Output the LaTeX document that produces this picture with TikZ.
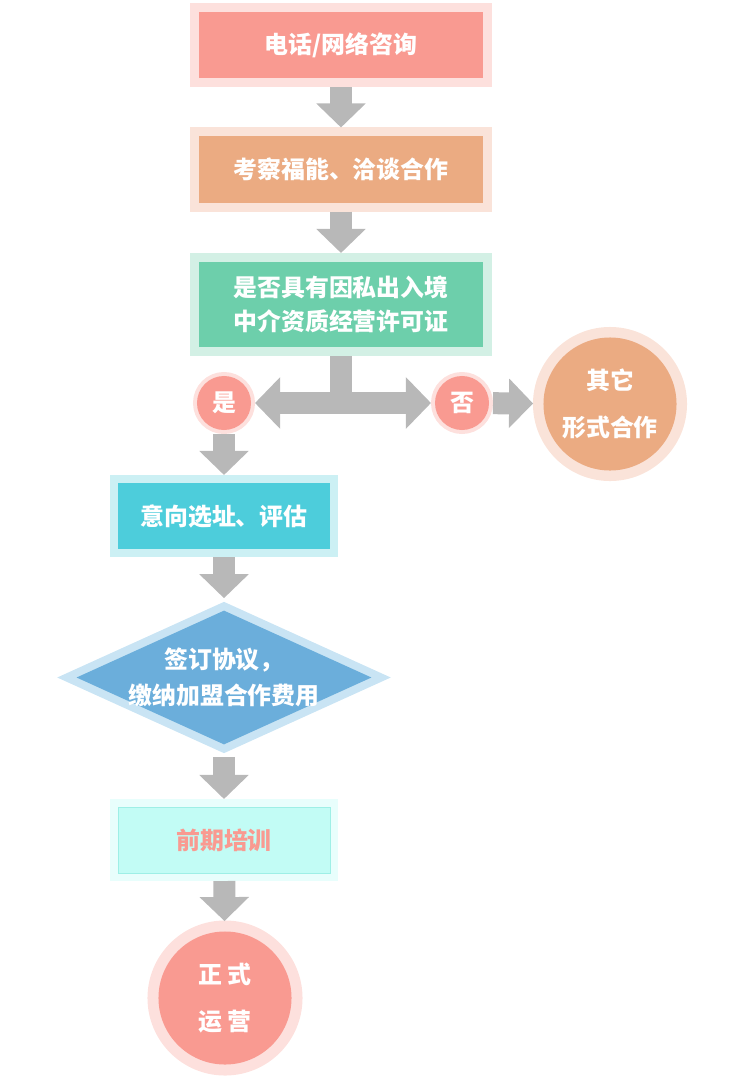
\documentclass[tikz,border=0pt]{standalone}
\usepackage{fontspec}
\setmainfont{Noto Sans CJK SC}
\usetikzlibrary{shapes,arrows.meta}
\definecolor{fc_red}{RGB}{249, 154, 145}
\definecolor{fc_red_lt}{RGB}{253, 224, 221}
\definecolor{fc_sand}{RGB}{235, 171, 130}
\definecolor{fc_sand_lt}{RGB}{250, 227, 217}
\definecolor{fc_green}{RGB}{109, 207, 171}
\definecolor{fc_green_lt}{RGB}{211, 240, 229}
\definecolor{fc_cyan}{RGB}{77, 205, 219}
\definecolor{fc_cyan_lt}{RGB}{204, 240, 244}
\definecolor{fc_blue}{RGB}{107, 174, 219}
\definecolor{fc_blue_lt}{RGB}{201, 228, 244}
\definecolor{fc_mint}{RGB}{194, 252, 245}
\definecolor{fc_mint_bd}{RGB}{158, 239, 230}
\definecolor{fc_mint_lt}{RGB}{232, 254, 252}
\definecolor{fc_grey}{RGB}{184, 184, 184}
\tikzstyle{box}=[rectangle,inner sep=0pt,text=white,align=center,
  font=\bfseries\fontsize{17}{24}\selectfont]
\tikzstyle{wbox}=[box,outer sep=0.225cm,minimum width=7.1cm,minimum height=1.65cm]
\tikzstyle{nbox}=[box,outer sep=0.2cm,minimum width=5.3cm,minimum height=1.65cm]
\tikzstyle{rbox}=[wbox,fill=fc_red,preaction={draw=fc_red_lt,line width=0.45cm}]
\tikzstyle{sbox}=[wbox,fill=fc_sand,preaction={draw=fc_sand_lt,line width=0.45cm}]
\tikzstyle{gbox}=[wbox,fill=fc_green,minimum height=2.125cm,
  preaction={draw=fc_green_lt,line width=0.45cm}]
\tikzstyle{cbox}=[nbox,fill=fc_cyan,preaction={draw=fc_cyan_lt,line width=0.4cm}]
\tikzstyle{mbox}=[nbox,fill=fc_mint,draw=fc_mint_bd,line width=0.6pt,text=fc_red,
  preaction={draw=fc_mint_lt,line width=0.4cm}]
\tikzstyle{bdia}=[diamond,aspect=2.14,fill=fc_blue,inner sep=-12pt,outer sep=0.22cm,
  minimum width=7.55cm,minimum height=3.525cm,text=white,align=center,
  font=\bfseries\fontsize{17}{26}\selectfont,
  preaction={draw=fc_blue_lt,line width=0.4cm}]
\tikzstyle{rc}=[circle,fill=fc_red,inner sep=0pt,minimum size=1.35cm,outer sep=0.1cm,
  text=white,font=\bfseries\fontsize{17}{24}\selectfont,
  preaction={draw=fc_red_lt,line width=0.2cm}]
\tikzstyle{bigc}=[circle,inner sep=0pt,minimum size=3.325cm,outer sep=0.26cm,
  text=white,align=center,font=\bfseries\fontsize{17}{33}\selectfont]
\tikzstyle{sc}=[bigc,fill=fc_sand,preaction={draw=fc_sand_lt,line width=0.525cm}]
\tikzstyle{bc}=[bigc,fill=fc_red,preaction={draw=fc_red_lt,line width=0.55cm}]
\tikzstyle{stem}=[draw=fc_grey,line width=0.55cm]
\tikzstyle{pipe}=[stem,-{Triangle[width=1.2cm,length=0.6cm]}]
\tikzstyle{pipes}=[stem,{Triangle[width=1.25cm,length=0.625cm]}-{Triangle[width=1.25cm,length=0.625cm]}]

\begin{document}
\begin{tikzpicture}[x=0.025cm,y=-0.025cm]
    \useasboundingbox (0,0) rectangle (742,1078);
    \node [style=rbox] (consult) at (341,45) {电话/网络咨询};
    \node [style=sbox] (visit) at (341,169.5) {考察福能、洽谈合作};
    \node [style=gbox] (licence) at (341,304.5) {是否具有因私出入境\\中介资质经营许可证};
    \node [style=rc] (yes) at (224,403) {是};
    \node [style=rc] (no) at (462,403) {否};
    \node [style=sc] (other) at (610,404) {其它\\形式合作};
    \node [style=cbox] (site) at (224,516) {意向选址、评估};
    \node [style=bdia] (sign) at (224,677.5) {签订协议，\\缴纳加盟合作费用};
    \node [style=mbox] (train) at (224,840) {前期培训};
    \node [style=bc] (open) at (225,998) {正 式\\运 营};
    \draw [style=pipe] (consult) to (visit);
    \draw [style=pipe] (visit) to (licence);
    \draw [style=stem] (licence) to (licence |- yes);
    \draw [style=pipes] (yes) to (no);
    \draw [style=pipe] (no) to (other);
    \draw [style=pipe] (yes) to (site);
    \draw [style=pipe] (site) to (sign);
    \draw [style=pipe] (sign) to (train);
    \draw [style=pipe] (train) to (open);
  \end{tikzpicture}
\end{document}
